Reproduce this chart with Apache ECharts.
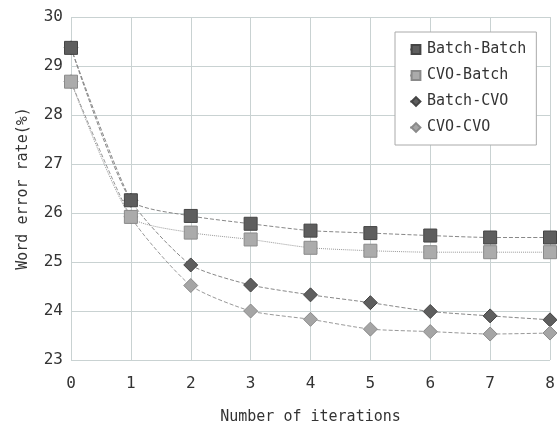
<!DOCTYPE html>
<html>
<head>
<meta charset="utf-8">
<script src="https://cdn.jsdelivr.net/npm/echarts@6/dist/echarts.min.js"></script>
<style>
  html, body { margin: 0; padding: 0; background: #fff; }
  #chart { width: 557px; height: 428px; }
</style>
</head>
<body>
<div id="chart"></div>
<script>
const iterations = [0, 1, 2, 3, 4, 5, 6, 7, 8]
const batchBatch = [29.37, 26.26, 25.94, 25.78, 25.64, 25.59, 25.54, 25.5, 25.5]
const cvoBatch = [28.68, 25.92, 25.6, 25.46, 25.29, 25.23, 25.2, 25.2, 25.2]
const batchCvo = [29.37, 26.26, 24.94, 24.53, 24.33, 24.17, 23.99, 23.9, 23.82]
const cvoCvo = [28.68, 25.92, 24.52, 24.0, 23.83, 23.63, 23.58, 23.53, 23.55]
const seriesNames = ['Batch-Batch', 'CVO-Batch', 'Batch-CVO', 'CVO-CVO']

const font = 'DejaVu Sans Mono'
const textColor = '#333'

function pairs (ys) {
  return ys.map((y, i) => [iterations[i], y])
}

const chart = echarts.init(document.getElementById('chart'))
const option = {
  animation: false,
  backgroundColor: '#fff',
  grid: {
    left: 71,
    right: 7,
    top: 17,
    bottom: 68,
    containLabel: false,
    outerBoundsMode: 'none'
  },
  legend: {
    orient: 'vertical',
    left: 395,
    top: 32,
    width: 140,
    padding: [10, 10, 10, 14],
    itemGap: 11,
    itemWidth: 12,
    itemHeight: 11,
    backgroundColor: '#fff',
    borderColor: '#aaa',
    borderWidth: 1,
    borderRadius: 0,
    data: seriesNames,
    textStyle: { fontFamily: font, fontSize: 15, color: textColor }
  },
  xAxis: {
    type: 'value',
    min: 0,
    max: 8,
    interval: 1,
    name: 'Number of iterations',
    nameLocation: 'middle',
    nameGap: 50,
    nameTextStyle: { fontFamily: font, fontSize: 15, color: textColor },
    axisLine: { show: false },
    axisTick: { show: false },
    axisLabel: { margin: 16, fontFamily: font, fontSize: 16, color: textColor },
    splitLine: { lineStyle: { color: '#c9d2d2', width: 1 } }
  },
  yAxis: {
    type: 'value',
    min: 23,
    max: 30,
    interval: 1,
    name: 'Word error rate(%)',
    nameLocation: 'middle',
    nameGap: 40,
    nameTextStyle: { fontFamily: font, fontSize: 15, color: textColor },
    axisLine: { show: false },
    axisTick: { show: false },
    axisLabel: { margin: 8, fontFamily: font, fontSize: 16, color: textColor },
    splitLine: { lineStyle: { color: '#c9d2d2', width: 1 } }
  },
  series: [
    {
      name: 'Batch-Batch',
      type: 'line',
      data: pairs(batchBatch),
      smooth: 0.2,
      z: 4,
      symbol: 'rect',
      symbolSize: 13,
      itemStyle: { color: '#5e5e5e', borderColor: '#444', borderWidth: 1 },
      lineStyle: { color: '#888', width: 1, type: 'dashed' }
    },
    {
      name: 'CVO-Batch',
      type: 'line',
      data: pairs(cvoBatch),
      smooth: 0.2,
      z: 4,
      symbol: 'rect',
      symbolSize: 13,
      itemStyle: { color: '#ababab', borderColor: '#8a8a8a', borderWidth: 1 },
      lineStyle: { color: '#999', width: 1, type: 'dotted' }
    },
    {
      name: 'Batch-CVO',
      type: 'line',
      data: pairs(batchCvo),
      smooth: 0.2,
      z: 2,
      symbol: 'diamond',
      symbolSize: 14,
      itemStyle: { color: '#5e5e5e', borderColor: '#444', borderWidth: 1 },
      lineStyle: { color: '#888', width: 1, type: 'dashed' }
    },
    {
      name: 'CVO-CVO',
      type: 'line',
      data: pairs(cvoCvo),
      smooth: 0.2,
      z: 2,
      symbol: 'diamond',
      symbolSize: 14,
      itemStyle: { color: '#a5a5a5', borderColor: '#8a8a8a', borderWidth: 1 },
      lineStyle: { color: '#999', width: 1, type: 'dashed' }
    }
  ]
}
chart.setOption(option)
</script>
</body>
</html>
